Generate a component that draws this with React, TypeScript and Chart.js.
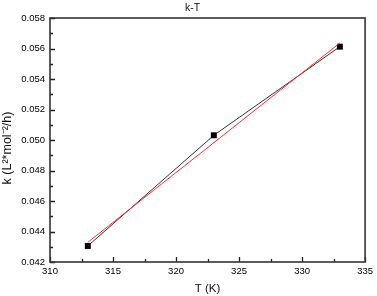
import React, { useEffect, useRef } from "react";
import { Chart, registerables } from "chart.js";

Chart.register(...registerables);

const chartTitle = "k-T";
const xTitle = "T (K)";
const yTitle = "k (L²*mol⁻²/h)";
const temperatures = [313, 323, 333];
const kValues = [0.04305, 0.05031, 0.05612];
const fitT = [313, 333];
const fitK = [0.04329, 0.05636];
const xMin = 310;
const xMax = 335;
const xStep = 5;
const yMin = 0.042;
const yMax = 0.058;
const yStep = 0.002;

const FONT = "Arial, 'Liberation Sans', sans-serif";

const framePlugin = {
  id: "frameTicks",
  afterDraw(chart: any) {
    const { ctx, chartArea } = chart;
    const { left, right, top, bottom } = chartArea;
    const xs = chart.scales.x;
    const ys = chart.scales.y;
    ctx.save();
    ctx.strokeStyle = "#222";
    ctx.lineWidth = 1.3;
    const xt = xs.ticks.map((t: any) => t.value);
    ctx.beginPath();
    xt.forEach((v: number, i: number) => {
      const px = Math.round(xs.getPixelForValue(v)) + 0.5;
      ctx.moveTo(px, bottom);
      ctx.lineTo(px, bottom - 5);
      if (i < xt.length - 1) {
        const m = Math.round(xs.getPixelForValue((v + xt[i + 1]) / 2)) + 0.5;
        ctx.moveTo(m, bottom);
        ctx.lineTo(m, bottom - 3);
      }
    });
    const yt = ys.ticks.map((t: any) => t.value);
    yt.forEach((v: number, i: number) => {
      const py = Math.round(ys.getPixelForValue(v)) + 0.5;
      ctx.moveTo(left, py);
      ctx.lineTo(left + 5, py);
      if (i < yt.length - 1) {
        const m = Math.round(ys.getPixelForValue((v + yt[i + 1]) / 2)) + 0.5;
        ctx.moveTo(left, m);
        ctx.lineTo(left + 3, m);
      }
    });
    ctx.stroke();
    ctx.lineWidth = 1.6;
    ctx.strokeStyle = "#333";
    ctx.strokeRect(left, top, right - left, bottom - top);
    ctx.fillStyle = "#111";
    ctx.font = `10.5px ${FONT}`;
    ctx.textAlign = "center";
    ctx.textBaseline = "middle";
    ctx.fillText(chartTitle, (left + right) / 2 - 15, 8);
    // y axis title
    ctx.translate(8, (top + bottom) / 2 + 8);
    ctx.rotate(-Math.PI / 2);
    ctx.font = `12.5px ${FONT}`;
    ctx.fillText(yTitle, 0, 0);
    ctx.restore();
  },
};

export default function App() {
  const ref = useRef<HTMLCanvasElement>(null);
  useEffect(() => {
    document.body.style.margin = "0";
    const chart = new Chart(ref.current as HTMLCanvasElement, {
      type: "scatter",
      data: {
        datasets: [
          {
            label: "fit",
            data: fitT.map((t, i) => ({ x: t, y: fitK[i] })),
            showLine: true,
            borderColor: "#ff2a2a",
            borderWidth: 1,
            pointRadius: 0,
            fill: false,
          },
          {
            label: "k",
            data: temperatures.map((t, i) => ({ x: t, y: kValues[i] })),
            showLine: true,
            borderColor: "#333",
            borderWidth: 1,
            pointStyle: "rect",
            pointRadius: 4.2,
            pointBackgroundColor: "#000",
            pointBorderColor: "#000",
            pointBorderWidth: 0,
            fill: false,
          },
        ],
      },
      options: {
        animation: false,
        responsive: false,
        layout: { padding: { top: 18, right: 10, left: 0, bottom: 0 } },
        plugins: { legend: { display: false }, tooltip: { enabled: false }, title: { display: false } },
        scales: {
          x: {
            type: "linear",
            min: xMin,
            max: xMax,
            grid: { display: false, drawTicks: false },
            border: { display: false },
            ticks: {
              stepSize: xStep,
              padding: 4,
              color: "#000",
              font: { family: FONT, size: 9.5 },
              maxRotation: 0,
            },
            title: {
              display: true,
              text: xTitle,
              color: "#111",
              font: { family: FONT, size: 11.5 },
              padding: { top: 0, bottom: 0 },
            },
            afterFit: (s: any) => {
              s.height = 34;
            },
          },
          y: {
            type: "linear",
            min: yMin,
            max: yMax,
            grid: { display: false, drawTicks: false },
            border: { display: false },
            ticks: {
              stepSize: yStep,
              padding: 5,
              color: "#000",
              font: { family: FONT, size: 9.5 },
              callback: (v: any) => Number(v).toFixed(3),
            },
            title: { display: false },
            afterFit: (s: any) => {
              s.width = 50;
            },
          },
        },
      },
      plugins: [framePlugin],
    });
    return () => chart.destroy();
  }, []);
  return (
    <div style={{ position: "absolute", left: 0, top: 0, width: 377, height: 296, background: "#fff" }}>
      <canvas ref={ref} width={377} height={296} style={{ display: "block" }} />
    </div>
  );
}
